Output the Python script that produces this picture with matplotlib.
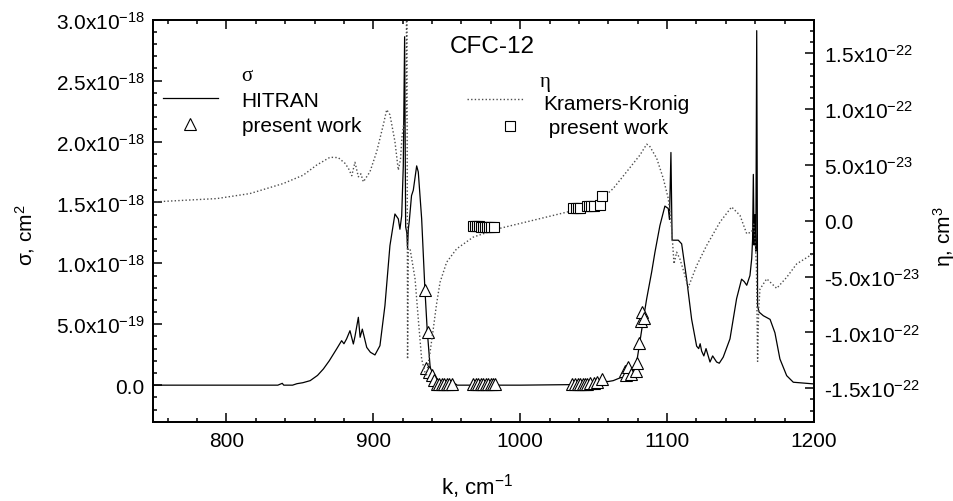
import numpy as np
import matplotlib
matplotlib.use("Agg")
import matplotlib.pyplot as plt
from matplotlib.ticker import MultipleLocator, FixedLocator, FixedFormatter

plt.rcParams['font.family'] = ['Liberation Sans', 'DejaVu Sans']
plt.rcParams['mathtext.fontset'] = 'custom'
plt.rcParams['mathtext.rm'] = 'Liberation Sans'
plt.rcParams['mathtext.it'] = 'Liberation Sans:italic'
plt.rcParams['mathtext.bf'] = 'Liberation Sans:bold'
plt.rcParams['font.size'] = 15

#%% datos leidos de la figura
# sigma (HITRAN), en 1e-18 cm^2
k_sig = [750, 835, 838, 839, 845, 848, 852, 857, 862, 866, 870, 875, 878.4, 880, 881.8,
         884.1, 886.4, 887.5, 889.8, 891, 892.5, 895.5, 898, 901.1, 904.5, 907.9, 911.3,
         914.7, 917, 918.1, 919.3, 920.4, 921.3, 922.0, 922.8, 923.3, 923.8, 924.5, 926,
         927.2, 929.5, 930.6, 932.9, 935.1, 936.7, 938.6, 940.8, 943, 950, 956, 957, 1000,
         1040, 1050, 1055, 1060, 1063.3, 1068, 1072.5, 1076, 1079.3, 1081, 1083.8, 1086.1,
         1089.5, 1091.7, 1095.1, 1098.5, 1100.8, 1101.6, 1102.6, 1103.4, 1107.6, 1109.9,
         1113.3, 1116.7, 1120.1, 1121.5, 1122.5, 1123.5, 1125, 1126.5, 1129.2, 1131, 1133.7,
         1135.5, 1138.2, 1142.8, 1147.3, 1150.7, 1152.5, 1154.2, 1156.4, 1157.6, 1158.2,
         1158.7, 1159.2, 1159.8, 1160.4, 1161.0, 1161.6, 1162.6, 1165.5, 1170.1, 1173.4,
         1176.8, 1181.4, 1185.9, 1200]
sig = [0, 0, 0.015, 0, 0, 0.012, 0.02, 0.037, 0.08, 0.133, 0.2, 0.297, 0.365, 0.34, 0.38,
       0.447, 0.338, 0.40, 0.557, 0.393, 0.46, 0.31, 0.27, 0.248, 0.324, 0.653, 1.145,
       1.405, 1.365, 1.28, 1.39, 1.80, 2.86, 1.30, 1.25, 1.12, 1.28, 1.35, 1.556,
       1.60, 1.80, 1.75, 1.365, 0.79, 0.447, 0.16, 0.02, 0.005, 0, 0.01, 0, 0,
       0.005, 0.015, 0.03, 0.03, 0.037, 0.06, 0.078, 0.10, 0.19, 0.32, 0.54, 0.71,
       0.93, 1.09, 1.31, 1.47, 1.45, 1.36, 1.91, 1.19, 1.19, 1.16,
       0.87, 0.54, 0.32, 0.30, 0.34, 0.28, 0.24, 0.30, 0.19, 0.24, 0.19,
       0.18, 0.23, 0.38, 0.71, 0.87, 0.85, 0.82, 0.90, 1.04, 1.20,
       1.73, 1.15, 1.40, 1.10, 2.91, 0.65, 0.60, 0.57, 0.54, 0.43,
       0.215, 0.078, 0.024, 0.01]

# eta (Kramers-Kronig), en 1e-23 cm^3
k_eta = [750, 793.4, 816, 838.7, 852.3, 861.4, 870.5, 876.1, 880.7, 883, 885.3, 887.5,
         889.8, 891.5, 893.2, 897.7, 902.3, 906.8, 909.1, 911.3, 914.7, 917, 918.5, 919.5,
         920.5, 921.5, 922.3, 922.8, 923.3, 923.8, 925, 928.4, 930.6, 932.9, 935.2, 936.2,
         938.6, 940.8, 943, 945.4, 949.9, 956.7, 968, 985, 1002, 1018, 1033.9, 1054.3,
         1063.3, 1072.5, 1081.5, 1086.1, 1088, 1092.9, 1097.4, 1100.8, 1103.1, 1104.7,
         1106.5, 1108.7, 1112.2, 1114.4, 1120.1, 1126.9, 1136, 1143.9, 1149.6, 1154.2,
         1157.6, 1159, 1160, 1160.8, 1161.6, 1162.3, 1163.2, 1167.8, 1174.6, 1181.4,
         1188.2, 1200]
eta = [1.68, 1.98, 2.43, 3.33, 4.08, 4.98, 5.68, 5.65, 5.14, 4.7, 4.03, 5.23,
       3.93, 4.2, 3.48, 4.38, 6.19, 8.59, 9.94, 9.49, 7.09, 4.53, 5.5, 7.5,
       8.5, 8.0, 10, 25, -12.4, -2.5, -2.52, -5.2, -8.8, -12.4, -13.6, -13.8,
       -11.8, -9.7, -7.5, -5.52, -3.72, -2.52, -1.47, -0.72, -0.18, 0.33, 0.84, 1.83,
       2.88, 4.39, 5.88, 6.85, 6.7, 5.59, 3.78, 1.98, -0.72, -3.87,
       -2.82, -3.42, -4.93, -5.97, -4.03, -2.22, -0.12, 1.23, 0.48, -1.17,
       -1.0, -0.3, -2.0, -4.0, -12.6, -8.0, -6.13, -5.2, -6.06, -5.07,
       -3.87, -2.9]

# present work, sigma (triangulos)
k_tri = [935.2, 937.0, 935.8, 937.9, 939.7, 941.5,
         943.1, 944.8, 946.5, 948.2, 949.9, 951.6, 953.3,
         968.0, 969.7, 971.4, 973.1, 974.8, 976.5, 978.2, 979.9, 981.6, 983.0,
         1035.5, 1037.2, 1039.0, 1040.7, 1042.4, 1044.1, 1045.8, 1047.5, 1050.0, 1052.5, 1055.4,
         1071.5, 1072.3, 1073.6, 1075.4, 1078.8, 1079.8, 1081.1, 1082.0, 1083.0, 1084.2]
sig_tri = [0.78, 0.44, 0.14, 0.11, 0.08, 0.04,
           0.01, 0.01, 0.01, 0.01, 0.01, 0.01, 0.01,
           0.01, 0.01, 0.01, 0.01, 0.01, 0.01, 0.01, 0.01, 0.01, 0.01,
           0.01, 0.01, 0.01, 0.01, 0.01, 0.01, 0.01, 0.015, 0.02, 0.03, 0.05,
           0.12, 0.08, 0.15, 0.09, 0.12, 0.18, 0.35, 0.53, 0.60, 0.55]

# present work, eta (cuadrados)
k_sq = [967.6, 969.0, 970.4, 971.8, 973.2, 974.6, 976.0, 977.4, 978.8, 980.2, 982.3,
        1036.2, 1037.8, 1039.4, 1041.0, 1045.2, 1046.8, 1048.4, 1050.0, 1054.3, 1055.6]
eta_sq = [-0.48, -0.49, -0.50, -0.51, -0.52, -0.53, -0.54, -0.55, -0.56, -0.57, -0.60,
          1.10, 1.12, 1.14, 1.16, 1.30, 1.32, 1.34, 1.36, 1.44, 2.22]

sig_ticks = [0, 0.5e-18, 1.0e-18, 1.5e-18, 2.0e-18, 2.5e-18, 3.0e-18]
sig_labels = ['0.0', r'5.0x10$^{-19}$', r'1.0x10$^{-18}$', r'1.5x10$^{-18}$',
              r'2.0x10$^{-18}$', r'2.5x10$^{-18}$', r'3.0x10$^{-18}$']
eta_ticks = [-1.5e-22, -1.0e-22, -0.5e-22, 0, 0.5e-22, 1.0e-22, 1.5e-22]
eta_labels = [r'-1.5x10$^{-22}$', r'-1.0x10$^{-22}$', r'-5.0x10$^{-23}$', '0.0',
              r'5.0x10$^{-23}$', r'1.0x10$^{-22}$', r'1.5x10$^{-22}$']

#%% figura
fig = plt.figure(figsize=(9.54, 5.02), dpi=100)
ax = fig.add_axes([153/954, 1-422.7/502, 661/954, 402/502])
ax2 = ax.twinx()

ax.plot(k_sig, np.array(sig)*1e-18, color='k', lw=0.9, zorder=2)
ax.plot(k_tri, np.array(sig_tri)*1e-18, ls='none', marker='^', ms=8, mfc='white',
        mec='k', mew=0.8, zorder=3)

ax2.plot(k_eta, np.array(eta)*1e-23, color='0.3', lw=1.0, ls=(0, (1, 1.6)))
ax2.plot(k_sq, np.array(eta_sq)*1e-23, ls='none', marker='s', ms=7, mfc='white',
         mec='k', mew=0.8)

ax.set_xlim(750, 1200)
ax.set_ylim(-0.3e-18, 3.0e-18)
ax2.set_ylim(-1.8e-22, 1.8e-22)

ax.xaxis.set_major_locator(MultipleLocator(100))
ax.xaxis.set_minor_locator(MultipleLocator(20))
ax.yaxis.set_major_locator(FixedLocator(sig_ticks))
ax.yaxis.set_major_formatter(FixedFormatter(sig_labels))
ax.yaxis.set_minor_locator(MultipleLocator(1e-19))
ax2.yaxis.set_major_locator(FixedLocator(eta_ticks))
ax2.yaxis.set_major_formatter(FixedFormatter(eta_labels))
ax2.yaxis.set_minor_locator(MultipleLocator(1e-23))

ax.tick_params(axis='x', which='both', direction='in', top=True, bottom=True, width=1.1, pad=7)
ax.tick_params(axis='y', which='both', direction='in', left=True, right=False, width=1.1, pad=6)
ax2.tick_params(axis='y', which='both', direction='in', right=True, left=False, width=1.1, pad=7)
for a in (ax, ax2):
    a.tick_params(which='major', length=6.5)
    a.tick_params(which='minor', length=3.1)
    for s in a.spines.values():
        s.set_linewidth(1.3)

ax.set_xlabel(r'k, cm$^{-1}$', fontsize=16)
ax.set_ylabel(r'σ, cm$^2$')
ax2.set_ylabel(r'η, cm$^3$')
ax.xaxis.set_label_coords(0.49, -0.122)
ax.yaxis.set_label_coords(-0.1755, 0.467)
ax2.yaxis.set_label_coords(1.177, 0.463)

ax2.text(0.4493, 0.9189, 'CFC-12', fontsize=17.5, transform=ax2.transAxes)

# leyendas a mano
T = ax2.transAxes
ax2.text(0.1339, 0.850, 'σ', family='Liberation Serif', fontsize=15, transform=T)
ax2.plot([0.0156, 0.0988], [0.8045, 0.8045], color='k', lw=0.9, transform=T)
ax2.text(0.1342, 0.7846, 'HITRAN', transform=T)
ax2.plot([0.056], [0.7405], marker='^', ms=8, mfc='white', mec='k', mew=0.8, transform=T)
ax2.text(0.1342, 0.7224, 'present work', transform=T)

ax2.text(0.5855, 0.835, 'η', family='Liberation Serif', fontsize=15, transform=T)
ax2.plot([0.4746, 0.5602], [0.8027, 0.8027], color='0.3', lw=1.0, ls=(0, (1, 1.6)), transform=T)
ax2.text(0.590, 0.7779, 'Kramers-Kronig', transform=T)
ax2.plot([0.540], [0.7345], marker='s', ms=7, mfc='white', mec='k', mew=0.8, transform=T)
ax2.text(0.590, 0.7174, ' present work', transform=T)

fig.savefig('out.png', dpi=100)
